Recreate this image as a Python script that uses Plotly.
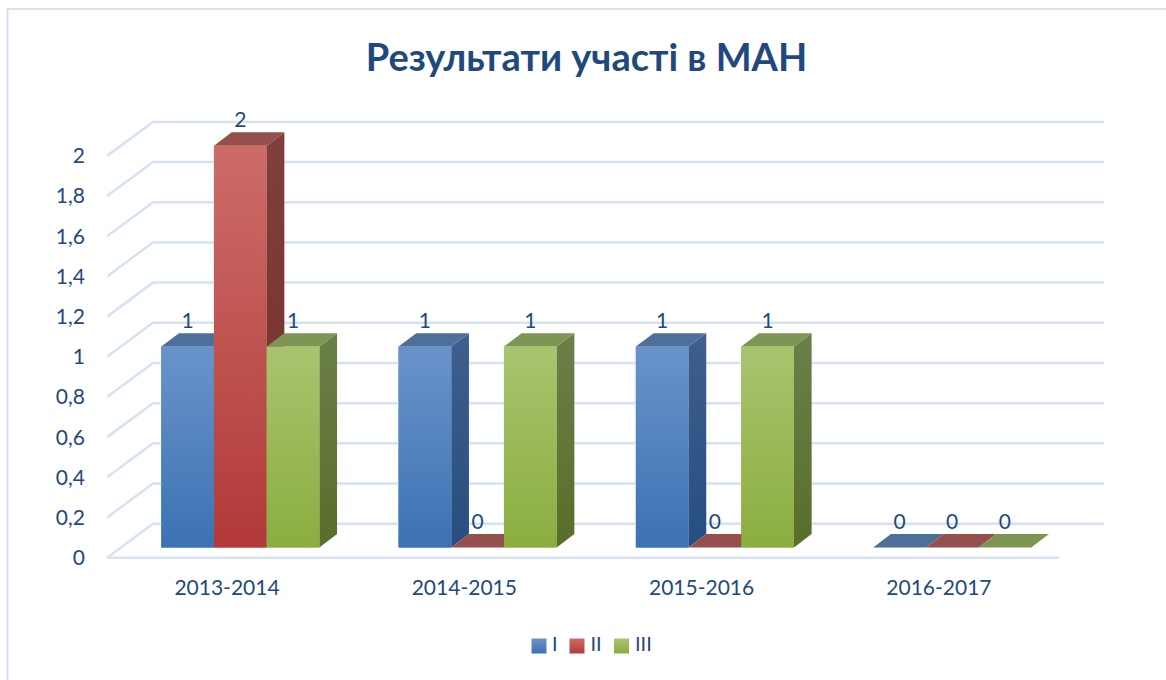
import plotly.graph_objects as go

TITLE = "Результати участі в МАН"
categories = ["2013-2014", "2014-2015", "2015-2016", "2016-2017"]
series_names = ["I", "II", "III"]
series_values = [
    [1, 1, 1, 0],
    [2, 0, 0, 0],
    [1, 1, 1, 0],
]
y_ticks = [0, 0.2, 0.4, 0.6, 0.8, 1, 1.2, 1.4, 1.6, 1.8, 2]
front_top = ["#6A93CB", "#CC6C68", "#A9C46F"]
front_bottom = ["#3B72B3", "#B23A38", "#8BAD3F"]
side_top = ["#3F5F8E", "#7F403D", "#6B7F4A"]
side_bottom = ["#264E80", "#792C2A", "#596E2A"]
top_face = ["#4F6F9B", "#95504E", "#7F9553"]
legend_color = ["#4F81BD", "#C0504D", "#9BBB59"]
TEXT = "#1F497D"
GRID = "#D6E2F3"
FONT = "Lato"

# Layout of the pseudo-3D scene, in pixels of the 1166x680 canvas
W, H = 1166, 680
PX_L, PX_R, PX_T, PX_ZERO = 107, 1104, 100, 557.7
PX_AXIS_BOTTOM = 562      # bottom of the main y axis
PX_BOTTOM = 670           # bottom of the plot area (legend strip included)
CAT0, CAT_STEP = 227, 237.3
UNIT = 200.9
to_x = lambda px: px / CAT_STEP
to_y = lambda px: px / UNIT
data_x = lambda px: (px - CAT0) / CAT_STEP
data_y = lambda py: (PX_ZERO - py) / UNIT

WALL_DX, WALL_DY = to_x(46), to_y(34)
BAR_DX, BAR_DY = to_x(17.7), to_y(13.4)
BASE = to_y(10.2)
BAR_W = to_x(52.7)
GROUP_SHIFT = to_x(13.3)
LABEL_GAP = to_y(24)
X_MIN, X_MAX = data_x(PX_L), data_x(PX_R)
X_FRONT_END = data_x(1059)
LEGEND_SWATCH_PX = [539, 577, 621.5]
LEGEND_TEXT_PX = [552, 590.5, 635]
LEGEND_Y_PX = 646

paper_x = lambda px: (px - PX_L) / (PX_R - PX_L)
paper_y = lambda py: (PX_BOTTOM - py) / (PX_BOTTOM - PX_T)

fig = go.Figure()

# Bars: real bar traces (front face), refined with gradients below
for s, name in enumerate(series_names):
    xs = [i + GROUP_SHIFT + (s - 1) * BAR_W for i in range(len(categories))]
    fig.add_trace(go.Bar(
        x=xs, y=series_values[s], base=BASE, width=BAR_W, name=name,
        marker=dict(color=legend_color[s], line=dict(width=0)),
        hoverinfo="skip", showlegend=False,
    ))

# Wall and floor grid lines
for v in y_ticks:
    fig.add_trace(go.Scatter(
        x=[X_MIN, X_MIN + WALL_DX, X_MAX], y=[v, v + WALL_DY, v + WALL_DY],
        mode="lines", line=dict(color=GRID, width=2.5), showlegend=False,
        hoverinfo="skip", cliponaxis=False,
    ))
fig.add_trace(go.Scatter(
    x=[X_MIN, X_FRONT_END], y=[0, 0], mode="lines",
    line=dict(color=GRID, width=2.5), showlegend=False, hoverinfo="skip",
    cliponaxis=False,
))


def poly(xs, ys, solid=None, grad=None):
    kw = dict(fill="toself", mode="lines", line=dict(width=0),
              showlegend=False, hoverinfo="skip", cliponaxis=False)
    if grad:
        kw["fillgradient"] = dict(
            type="vertical", colorscale=[[0, grad[0]], [1, grad[1]]],
            start=grad[2], stop=grad[3])
    else:
        kw["fillcolor"] = solid
    fig.add_trace(go.Scatter(x=xs + xs[:1], y=ys + ys[:1], **kw))


# Faces, series by series from back-left to front-right
for i in range(len(categories)):
    for s in range(len(series_names)):
        v = series_values[s][i]
        x0 = i + GROUP_SHIFT + (s - 1.5) * BAR_W
        x1 = x0 + BAR_W
        y0, y1 = BASE, BASE + v
        if v > 0:
            poly([x1, x1 + BAR_DX, x1 + BAR_DX, x1],
                 [y0, y0 + BAR_DY, y1 + BAR_DY, y1],
                 grad=(side_bottom[s], side_top[s], y0, y1 + BAR_DY))
        poly([x0, x1, x1 + BAR_DX, x0 + BAR_DX],
             [y1, y1, y1 + BAR_DY, y1 + BAR_DY], solid=top_face[s])
        if v > 0:
            poly([x0, x1, x1, x0], [y0, y0, y1, y1],
                 grad=(front_bottom[s], front_top[s], y0, y1))

# Data labels
for s in range(len(series_names)):
    fig.add_trace(go.Scatter(
        x=[i + GROUP_SHIFT + (s - 1) * BAR_W for i in range(len(categories))],
        y=[BASE + v + LABEL_GAP for v in series_values[s]],
        text=[str(v) for v in series_values[s]],
        mode="text", textposition="middle center",
        textfont=dict(family=FONT, size=21, color=TEXT),
        showlegend=False, hoverinfo="skip", cliponaxis=False,
    ))

# Legend entries with gradient swatches, in a strip below the main axis
for s, name in enumerate(series_names):
    fig.add_trace(go.Scatter(
        x=[data_x(LEGEND_SWATCH_PX[s])], y=[LEGEND_Y_PX],
        yaxis="y2", name=name, mode="markers",
        marker=dict(symbol="square", size=15, color=front_top[s],
                    gradient=dict(type="vertical", color=front_bottom[s]),
                    line=dict(width=0)),
        showlegend=False, hoverinfo="skip", cliponaxis=False,
    ))
    fig.add_trace(go.Scatter(
        x=[data_x(LEGEND_TEXT_PX[s])], y=[LEGEND_Y_PX], text=[name],
        yaxis="y2", name=name, mode="text", textposition="middle right",
        textfont=dict(family=FONT, size=20, color=TEXT),
        showlegend=False, hoverinfo="skip", cliponaxis=False,
    ))

PX_STRIP_TOP = 600
fig.update_layout(
    width=W, height=H,
    margin=dict(l=PX_L, r=W - PX_R, t=PX_T, b=H - PX_BOTTOM, pad=0),
    paper_bgcolor="white", plot_bgcolor="white",
    barmode="overlay",
    font=dict(family=FONT, color=TEXT),
    title=dict(text=f"<b>{TITLE}</b>", x=586.5 / W, xanchor="center",
               y=1 - 58 / H, yanchor="middle",
               font=dict(family=FONT, size=38, color=TEXT)),
    xaxis=dict(
        range=[X_MIN, X_MAX], tickmode="array", anchor="y", automargin=False,
        tickvals=list(range(len(categories))), ticktext=categories,
        showgrid=False, zeroline=False, showline=False, ticks="",
        ticklabelstandoff=11, tickfont=dict(family=FONT, size=21, color=TEXT),
    ),
    yaxis=dict(
        domain=[paper_y(PX_AXIS_BOTTOM), 1], automargin=False,
        range=[data_y(PX_AXIS_BOTTOM), data_y(PX_T)], tickmode="array",
        tickvals=y_ticks,
        ticktext=[str(v).replace(".", ",") for v in y_ticks],
        showgrid=False, zeroline=False, showline=False, ticks="",
        ticklabelstandoff=21, tickfont=dict(family=FONT, size=21, color=TEXT),
    ),
    yaxis2=dict(
        domain=[0, paper_y(PX_STRIP_TOP)], range=[PX_BOTTOM, PX_STRIP_TOP],
        visible=False, anchor="x", automargin=False,
    ),
    showlegend=False,
    shapes=[dict(type="rect", xref="paper", yref="paper",
                 x0=paper_x(7.5), x1=paper_x(1180),
                 y0=paper_y(700), y1=paper_y(9),
                 line=dict(color="#D6E2F3", width=2), fillcolor="rgba(0,0,0,0)",
                 layer="below")],
)

fig.write_html("out.html", config=dict(displayModeBar=False),
               post_script="document.body.style.margin='0';")
